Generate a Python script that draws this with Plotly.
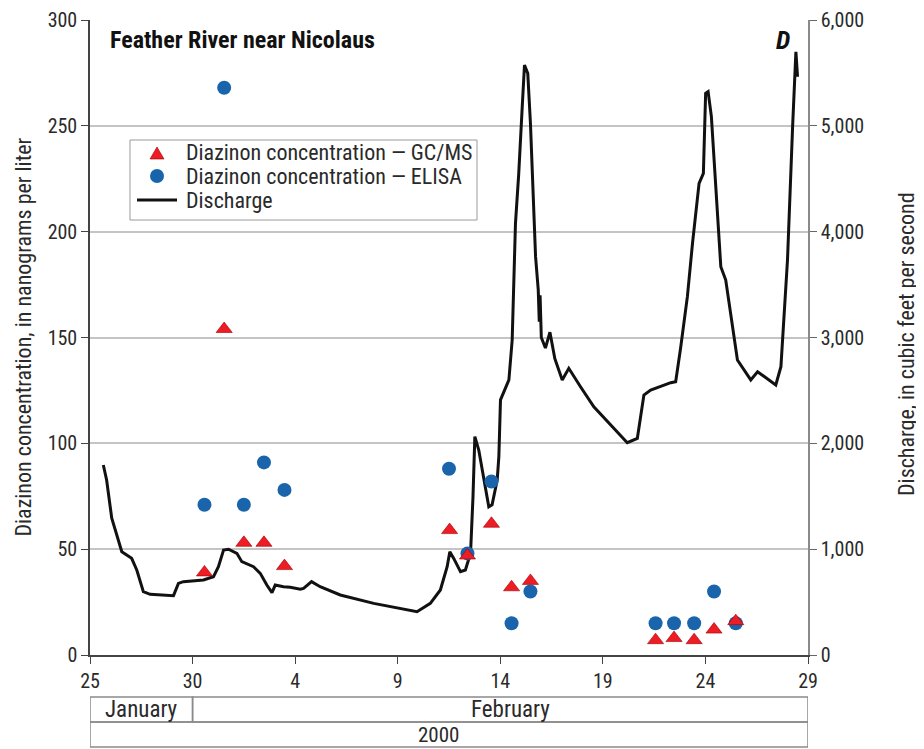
import pandas as pd
import plotly.graph_objects as go

START = "2000-01-25"

# Discharge (cubic feet per second), time in days after 2000-01-25 00:00
q_days = [0.65, 0.81, 1.06, 1.55, 2.03, 2.28, 2.60, 2.93, 4.07, 4.31, 4.55, 5.53,
          6.02, 6.26, 6.51, 6.75, 7.16, 7.40, 7.97, 8.30, 8.62, 8.87, 9.03, 9.43,
          9.76, 10.25, 10.41, 10.60, 10.80, 11.22, 12.20, 13.83, 15.29, 15.94, 16.59,
          17.08, 17.41, 17.54, 17.73, 18.06, 18.30, 18.55, 18.67, 18.76, 18.95, 19.20,
          19.44, 19.60, 19.85, 19.93, 20.01, 20.42, 20.58, 20.74, 20.90, 21.07, 21.18,
          21.34, 21.47, 21.72, 21.85, 21.90, 21.94, 22.00, 22.20, 22.42, 22.66, 23.02,
          23.34, 23.91, 24.56, 26.19, 26.68, 27.00, 27.33, 28.31, 28.55, 28.79, 29.12,
          29.37, 29.61, 29.69, 29.90, 30.01, 30.13, 30.29, 30.75, 30.99, 31.56, 32.21,
          32.54, 33.43, 33.68, 34.00, 34.25, 34.41, 34.49]
discharge = [1795, 1654, 1292, 976, 913, 803, 598, 573, 561, 677, 693, 709,
             740, 834, 992, 999, 961, 882, 834, 772, 661, 589, 661, 645,
             640, 621, 630, 660, 693, 645, 567, 488, 432, 409, 488,
             614, 834, 976, 913, 787, 803, 961, 1496, 2063, 1937, 1654,
             1401, 1420, 1654, 1874, 2410, 2599, 2976, 4079, 4551, 5181, 5575,
             5496, 5024, 3764, 3450, 3150, 3400, 3000, 2900, 3050, 2800, 2599,
             2709, 2535, 2346, 2006, 2047, 2457, 2504, 2573, 2583, 2900, 3386,
             3890, 4299, 4457, 4551, 5308, 5323, 5087, 3669, 3543, 2787, 2599,
             2677, 2551, 2724, 3732, 4992, 5700, 5464]

# Diazinon concentration (ng/L), sample time in days after 2000-01-25 00:00
gcms_days = [5.58, 6.54, 7.50, 8.48, 9.48, 17.53, 18.40, 19.57, 20.55, 21.47,
             27.57, 28.47, 29.45, 30.42, 31.48]
gcms = [39, 154, 53, 53, 42, 59, 47, 62, 32, 35, 7, 8, 7, 12, 16]

elisa_days = [5.58, 6.54, 7.50, 8.48, 9.48, 17.50, 18.40, 19.57, 20.55, 21.47,
              27.57, 28.47, 29.45, 30.42, 31.48]
elisa = [71, 268, 71, 91, 78, 88, 48, 82, 15, 30, 15, 15, 15, 30, 15]

tick_dates = ["2000-01-25", "2000-01-30", "2000-02-04", "2000-02-09", "2000-02-14",
              "2000-02-19", "2000-02-24", "2000-02-29"]
tick_text = ["25", "30", "4", "9", "14", "19", "24", "29"]

GCMS_NAME = "Diazinon concentration \u2014 GC/MS"
ELISA_NAME = "Diazinon concentration \u2014 ELISA"
Q_NAME = "Discharge"


def to_dates(days):
    return pd.Timestamp(START) + pd.to_timedelta(days, unit="D")


FONT = "Roboto Condensed, Liberation Sans Narrow, DejaVu Sans Condensed, sans-serif"
TXT = "#2a2a2a"
FS_TICK = 20
FS_TXT = 23
FS_LEG = 22
RED = "#ee1c24"
BLUE = "#1a64ac"

fig = go.Figure()
fig.add_trace(go.Scatter(
    x=to_dates(q_days), y=discharge, mode="lines", name=Q_NAME,
    line=dict(color="#111111", width=3), yaxis="y"))
fig.add_trace(go.Scatter(
    x=to_dates(elisa_days), y=elisa, mode="markers", name=ELISA_NAME,
    marker=dict(symbol="circle", size=14, color=BLUE, line=dict(width=0)),
    yaxis="y2"))
fig.add_trace(go.Scatter(
    x=to_dates(gcms_days), y=gcms, mode="markers", name=GCMS_NAME,
    marker=dict(symbol="triangle-up", size=14, color=RED,
                line=dict(width=0.6, color="#a00000")),
    yaxis="y2"))

x0 = "2000-01-25"
x1 = "2000-02-29"
xm = "2000-01-30"

shapes = []
box_line = dict(color="#8a8a8a", width=1.5)
shapes.append(dict(type="rect", xref="x", yref="paper", x0=x0, x1=xm,
                   y0=-0.1055, y1=-0.0661, line=box_line))
shapes.append(dict(type="rect", xref="x", yref="paper", x0=xm, x1=x1,
                   y0=-0.1055, y1=-0.0661, line=box_line))
shapes.append(dict(type="rect", xref="x", yref="paper", x0=x0, x1=x1,
                   y0=-0.1449, y1=-0.1055, line=box_line))

# legend box (drawn by hand so the rows keep the reference's tight spacing)
shapes.append(dict(type="rect", xref="paper", yref="paper", x0=0.0557, x1=0.539,
                   y0=0.685, y1=0.811, line=dict(color="#9a9a9a", width=1),
                   fillcolor="white", layer="above"))
shapes.append(dict(type="path", xref="paper", yref="paper",
                   path="M 0.0836 0.7811 L 0.1031 0.7811 L 0.0933 0.8000 Z",
                   fillcolor=RED, line=dict(color="#a00000", width=0.6),
                   layer="above"))
shapes.append(dict(type="circle", xref="paper", yref="paper", x0=0.0836, x1=0.1031,
                   y0=0.7433, y1=0.7654, fillcolor=BLUE, line=dict(width=0),
                   layer="above"))
shapes.append(dict(type="line", xref="paper", yref="paper", x0=0.0655, x1=0.1212,
                   y0=0.7165, y1=0.7165, line=dict(color="#111111", width=3),
                   layer="above"))

leg_font = dict(size=FS_LEG, color=TXT, family=FONT)
annotations = [
    dict(text=GCMS_NAME, xref="paper", yref="paper", x=0.1309, y=0.7906,
         xanchor="left", yanchor="middle", showarrow=False, font=leg_font),
    dict(text=ELISA_NAME, xref="paper", yref="paper", x=0.1309, y=0.7543,
         xanchor="left", yanchor="middle", showarrow=False, font=leg_font),
    dict(text=Q_NAME, xref="paper", yref="paper", x=0.1309, y=0.7165,
         xanchor="left", yanchor="middle", showarrow=False, font=leg_font),
    dict(text="January", xref="x", yref="paper", x="2000-01-27 12:00", y=-0.0866,
         xanchor="center", yanchor="middle", showarrow=False,
         font=dict(size=FS_TXT, color=TXT, family=FONT)),
    dict(text="February", xref="x", yref="paper", x="2000-02-14 12:00", y=-0.0866,
         xanchor="center", yanchor="middle", showarrow=False,
         font=dict(size=FS_TXT, color=TXT, family=FONT)),
    dict(text="2000", xref="x", yref="paper", x="2000-02-11", y=-0.126,
         xanchor="center", yanchor="middle", showarrow=False,
         font=dict(size=21, color=TXT, family=FONT)),
    dict(text="<b>Feather River near Nicolaus</b>", xref="paper", yref="paper",
         x=0.025, y=0.9685, xanchor="left", yanchor="middle", showarrow=False,
         font=dict(size=24, color="#111", family=FONT)),
    dict(text="<b><i>D</i></b>", xref="paper", yref="paper",
         x=0.965, y=0.9685, xanchor="center", yanchor="middle", showarrow=False,
         font=dict(size=26, color="#111", family=FONT)),
    dict(text="Diazinon concentration, in nanograms per liter", xref="paper",
         yref="paper", x=-0.0933, y=0.5, textangle=-90, xanchor="center",
         yanchor="middle", showarrow=False,
         font=dict(size=22, color=TXT, family=FONT)),
    dict(text="Discharge, in cubic feet per second", xref="paper",
         yref="paper", x=1.138, y=0.49, textangle=-90, xanchor="center",
         yanchor="middle", showarrow=False,
         font=dict(size=22, color=TXT, family=FONT)),
]

# the page body adds an 8 px offset, so margins are shifted by 8 px
fig.update_layout(
    width=924, height=749,
    margin=dict(l=82, r=124, t=12, b=102, autoexpand=False),
    paper_bgcolor="white", plot_bgcolor="white",
    font=dict(family=FONT, size=FS_TICK, color=TXT),
    showlegend=False,
    xaxis=dict(type="date", range=[x0, x1], tickvals=tick_dates, ticktext=tick_text,
               ticks="outside", ticklen=7, tickcolor="#444", showgrid=False,
               showline=True, linecolor="#444", linewidth=1.5, zeroline=False,
               automargin=False, tickfont=dict(size=FS_TICK, color=TXT)),
    yaxis=dict(side="right", range=[0, 6000], dtick=1000, tickformat=",d",
               showgrid=True, gridcolor="#c4c4c4", gridwidth=1.5, zeroline=False,
               showline=True, linecolor="#8a8a8a", linewidth=1.5,
               ticks="outside", ticklen=7, tickcolor="#666", automargin=False,
               tickfont=dict(size=FS_TICK, color=TXT)),
    yaxis2=dict(overlaying="y", side="left", range=[0, 300], dtick=50,
                showgrid=False, zeroline=False, showline=True, linecolor="#444",
                linewidth=1.5, ticks="outside", ticklen=7, tickcolor="#444",
                automargin=False, tickfont=dict(size=FS_TICK, color=TXT)),
    shapes=shapes, annotations=annotations,
)

fig.write_html("out.html")
